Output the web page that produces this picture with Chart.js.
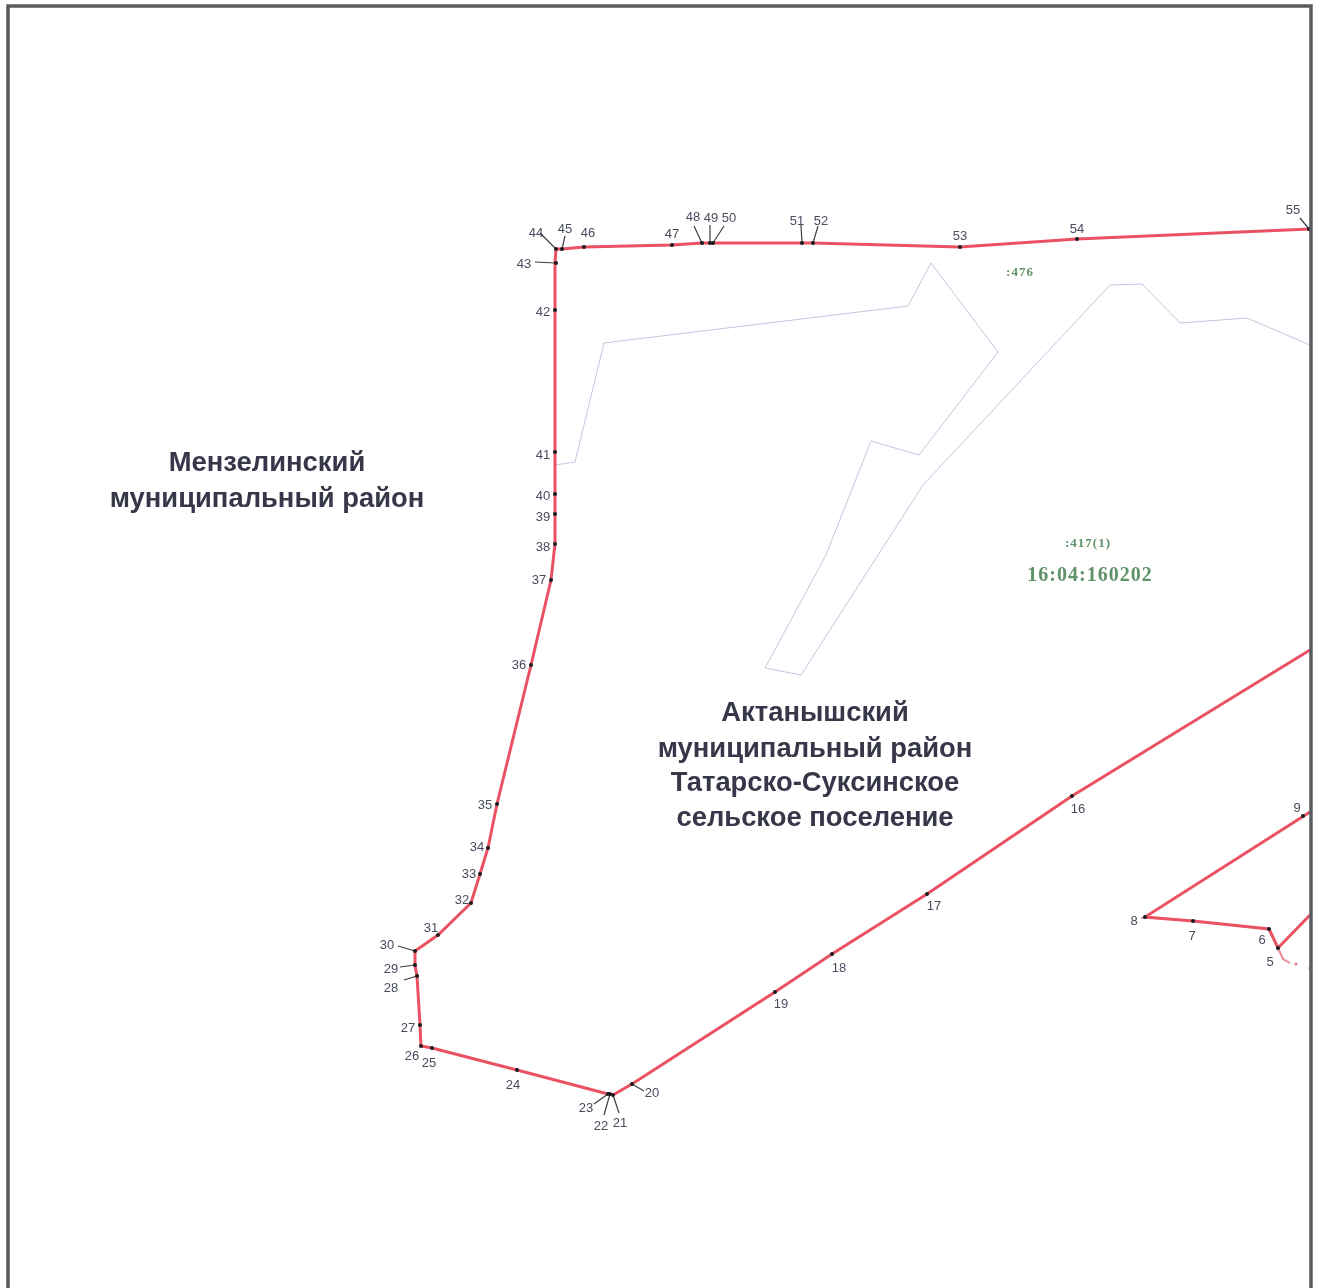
<!DOCTYPE html>
<html>
<head>
<meta charset="utf-8">
<script src="https://cdn.jsdelivr.net/npm/chart.js@4"></script>
<style>
  html, body { margin: 0; padding: 0; background: #fff; }
  canvas { display: block; filter: blur(0.6px); }
</style>
</head>
<body>
<canvas id="mapChart" width="1321" height="1288"></canvas>
<script>
// numbered boundary points
var pointNames = ['5','6','7','8','9','16','17','18','19','20','21','22','23','24','25','26','27','28','29','30','31','32','33','34','35','36','37','38','39','40','41','42','43','44','45','46','47','48','49','50','51','52','53','54','55'];
var pointX = [1278,1269,1193,1145,1303,1072,927,832,775,632,613,610,608,517,432,421,420,417,415,415,438,471,480,488,497,531,551,555,555,555,555,555,556,556,562,584,672,702,710,713,802,813,960,1077,1309];
var pointY = [948,929,921,917,816,796,894,954,992,1084,1095,1094,1094,1070,1048,1046,1025,976,965,951,935,903,874,848,804,665,580,544,514,494,452,310,263,249,249,247,245,243,243,243,243,243,247,239,229];
var labelX = [1270,1262,1192,1134,1297,1078,934,839,781,652,620,601,586,513,429,412,408,391,391,387,431,462,469,477,485,519,539,543,543,543,543,543,524,536,565,588,672,693,711,729,797,821,960,1077,1293];
var labelY = [962,940,936,921,808,809,906,968,1004,1093,1123,1126,1108,1085,1063,1056,1028,988,969,945,928,900,874,847,805,665,580,547,517,496,455,312,264,233,229,233,234,217,218,218,221,221,236,229,210];

// main boundary, from the right edge round to the top right
var mainLineX = [1310,1072,927,832,775,632,613,608,517,432,421,420,417,415,415,438,471,480,488,497,531,551,555,555,555,556,562,584,672,702,713,813,960,1077,1310];
var mainLineY = [650,796,894,954,992,1084,1095,1094,1070,1048,1046,1025,976,965,951,935,903,874,848,804,665,580,544,310,263,249,249,247,245,243,243,243,247,239,229];
// inner boundary
var innerLineX = [1310,1145,1193,1269,1278,1310];
var innerLineY = [812,917,921,929,948,915];
var tailX = [1278,1283,1290];
var tailY = [948,959,963];
var tailDotX = [1296,1310];
var tailDotY = [964,968];

// thin parcel outline
var parcelX = [555,575,604,908,931,998,919,871,826,765,801,923,1110,1142,1180,1247,1310];
var parcelY = [465,462,343,306,263,352,455,441,555,668,675,485,285,284,323,318,345];

// leader lines: from point to label
var leaderNames = ['43','44','45','48','49','50','51','52','55','30','29','28','23','22','21','20'];
var leaderX = [535,540,565,694,710,724,801,818,1300,398,400,404,594,604,619,644];
var leaderY = [262,233,236,226,225,226,225,226,218,946,967,980,1104,1115,1113,1091];

// frame of the sheet
var frameX = [8,8,1311,1311];
var frameY = [1288,6,6,1288];

var districtLines = ['Мензелинский','муниципальный район','Актанышский','муниципальный район','Татарско-Суксинское','сельское поселение'];
var districtX = [267,267,815,815,815,815];
var districtY = [463,499,713,749,783,818];
var parcelNames = [':476',':417(1)','16:04:160202'];
var parcelNameX = [1020,1088,1090];
var parcelNameY = [273,544,576];
var parcelNameSize = [13,13,20];

function zip(xs, ys) {
    return xs.map(function (x, i) { return {x: x, y: ys[i]}; });
}

function leaderData() {
    var pts = [];
    leaderNames.forEach(function (name, i) {
        var k = pointNames.indexOf(name);
        pts.push({x: leaderX[i], y: leaderY[i]});
        pts.push({x: pointX[k], y: pointY[k]});
        pts.push({x: NaN, y: NaN});
    });
    return pts;
}

var textPlugin = {
    id: 'mapText',
    afterDatasetsDraw: function (chart) {
        var c = chart.ctx, sx = chart.scales.x, sy = chart.scales.y;
        c.save();
        c.textAlign = 'center';
        c.textBaseline = 'middle';

        c.fillStyle = '#474c5e';
        c.font = '13px "Liberation Sans"';
        pointNames.forEach(function (t, i) {
            c.fillText(t, sx.getPixelForValue(labelX[i]), sy.getPixelForValue(labelY[i]));
        });

        c.fillStyle = '#363849';
        c.font = 'bold 27.4px "Liberation Sans"';
        districtLines.forEach(function (t, i) {
            c.fillText(t, sx.getPixelForValue(districtX[i]), sy.getPixelForValue(districtY[i]));
        });

        c.fillStyle = '#5f9268';
        c.letterSpacing = '1px';
        parcelNames.forEach(function (t, i) {
            c.font = 'bold ' + parcelNameSize[i] + 'px "Liberation Serif"';
            c.fillText(t, sx.getPixelForValue(parcelNameX[i]), sy.getPixelForValue(parcelNameY[i]));
        });
        c.restore();
    }
};

// first dataset is drawn on top
var ctx = document.getElementById('mapChart');
new Chart(ctx, {
    type: 'scatter',
    data: {
        datasets: [
            {data: zip(frameX, frameY), showLine: true, borderColor: '#585c60', borderWidth: 3.5, pointRadius: 0},
            {data: zip(pointX, pointY), showLine: false, pointRadius: 2, pointBackgroundColor: '#1c1c20', pointBorderWidth: 0},
            {data: leaderData(), showLine: true, spanGaps: false, borderColor: '#3d3d42', borderWidth: 1.2, pointRadius: 0},
            {data: zip(tailDotX, tailDotY), showLine: false, pointRadius: 1.5, pointBackgroundColor: '#ea7482', pointBorderWidth: 0},
            {data: zip(tailX, tailY), showLine: true, borderColor: '#ee8a96', borderWidth: 2, pointRadius: 0},
            {data: zip(innerLineX, innerLineY), showLine: true, borderColor: '#ea5263', borderWidth: 3, pointRadius: 0},
            {data: zip(mainLineX, mainLineY), showLine: true, borderColor: '#ea5263', borderWidth: 3, pointRadius: 0},
            {data: zip(parcelX, parcelY), showLine: true, borderColor: '#c4c6de', borderWidth: 1, pointRadius: 0}
        ]
    },
    options: {
        responsive: false,
        animation: false,
        layout: {padding: 0, autoPadding: false},
        plugins: {legend: {display: false}, tooltip: {enabled: false}, title: {display: false}},
        scales: {
            x: {type: 'linear', display: false, min: 0, max: 1321},
            y: {type: 'linear', display: false, min: 0, max: 1288, reverse: true}
        }
    },
    plugins: [textPlugin]
});
</script>
</body>
</html>
